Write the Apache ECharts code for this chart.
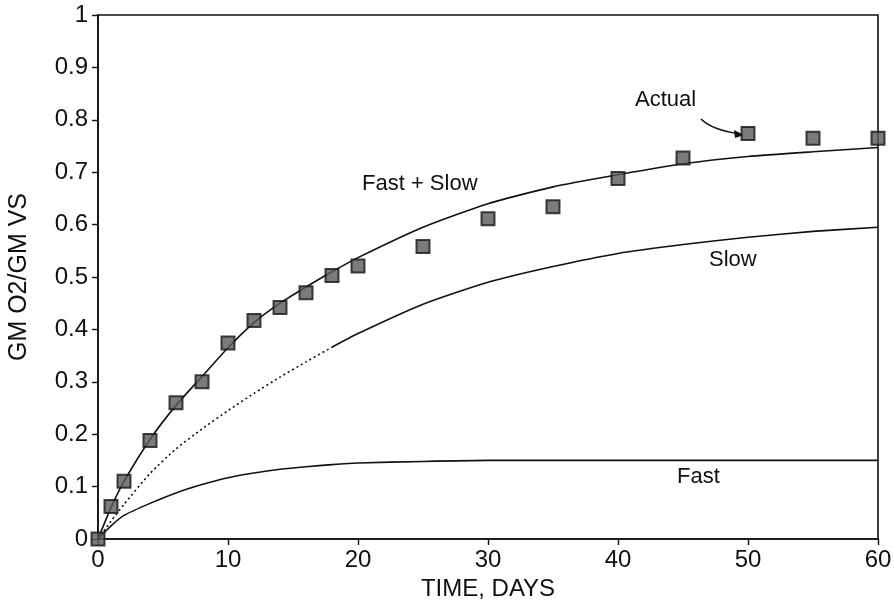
<!DOCTYPE html>
<html><head><meta charset="utf-8">
<script src="https://cdn.jsdelivr.net/npm/echarts@6/dist/echarts.min.js"></script>
<style>html,body{margin:0;padding:0;background:#fff}#c{width:894px;height:610px}</style>
</head><body><div id="c"></div>
<script>
const days = [0,1,2,4,6,8,10,12,14,16,18,20,25,30,35,40,45,50,55,60];
const fastSlow = [0,0.06,0.11,0.19,0.255,0.31,0.365,0.413,0.45,0.481,0.51,0.537,0.595,0.64,0.672,0.695,0.716,0.73,0.739,0.747];
const slow = [0,0.034,0.066,0.125,0.172,0.21,0.245,0.278,0.309,0.338,0.366,0.392,0.448,0.49,0.52,0.545,0.562,0.576,0.587,0.595];
const fast = [0,0.025,0.045,0.068,0.088,0.104,0.117,0.126,0.133,0.138,0.142,0.145,0.148,0.15,0.15,0.15,0.15,0.15,0.15,0.15];
const actualDays = [0,1,2,4,6,8,10,12,14,16,18,20,25,30,35,40,45,50,55,60];
const actual = [0,0.062,0.11,0.188,0.26,0.30,0.374,0.417,0.442,0.47,0.503,0.521,0.558,0.611,0.634,0.688,0.727,0.774,0.765,0.765];
const xTicks = [0,10,20,30,40,50,60];
const yTicks = [0,0.1,0.2,0.3,0.4,0.5,0.6,0.7,0.8,0.9,1];
const dottedEnd = 10; // index of day 18 in days

const pairs = (xs, ys) => xs.map((x, i) => [x, ys[i]]);
const F = 'Liberation Sans, Arial, sans-serif';
const chart = echarts.init(document.getElementById('c'));
const lineStyle = {color: '#111', width: 1.6};
const sm = {smooth: 0.2, showSymbol: false, z: 2};
chart.setOption({
  animation: false,
  backgroundColor: '#fff',
  grid: {left: 98, right: 16, top: 15, bottom: 71, show: true, borderColor: '#111', borderWidth: 1.6,
         containLabel: false, outerBoundsMode: 'none'},
  xAxis: {
    type: 'value', min: xTicks[0], max: xTicks[xTicks.length - 1], interval: 10,
    name: 'TIME, DAYS', nameLocation: 'middle', nameGap: 38,
    nameTextStyle: {fontFamily: F, fontSize: 24, color: '#111'},
    axisLine: {show: true, lineStyle: {color: '#111', width: 1.6}},
    axisTick: {show: true, inside: false, length: 6, lineStyle: {color: '#111', width: 1.4}},
    axisLabel: {fontFamily: F, fontSize: 24, color: '#111', margin: 9},
    splitLine: {show: false}
  },
  yAxis: {
    type: 'value', min: yTicks[0], max: yTicks[yTicks.length - 1], interval: 0.1,
    name: 'GM O2/GM VS', nameLocation: 'middle', nameGap: 66, nameRotate: 90,
    nameTextStyle: {fontFamily: F, fontSize: 25, color: '#111'},
    axisLine: {show: true, lineStyle: {color: '#111', width: 1.6}},
    axisTick: {show: true, inside: false, length: 6, lineStyle: {color: '#111', width: 1.4}},
    axisLabel: {fontFamily: F, fontSize: 24, color: '#111', margin: 10},
    splitLine: {show: false}
  },
  series: [
    Object.assign({name: 'Fast + Slow', type: 'line', data: pairs(days, fastSlow), lineStyle: lineStyle}, sm),
    Object.assign({name: 'Slow dotted', type: 'line', data: pairs(days, slow).slice(0, dottedEnd + 1), lineStyle: {color: '#111', width: 1.6, type: [2, 3]}}, sm),
    Object.assign({name: 'Slow', type: 'line', data: pairs(days, slow).slice(dottedEnd), lineStyle: lineStyle}, sm),
    Object.assign({name: 'Fast', type: 'line', data: pairs(days, fast), lineStyle: lineStyle}, sm),
    {name: 'Actual', type: 'scatter', data: pairs(actualDays, actual), symbol: 'rect', symbolSize: 13,
     itemStyle: {color: '#5a5a5a', borderColor: '#151515', borderWidth: 2}, z: 5}
  ],
  graphic: [
    {type: 'text', left: 362, top: 173, style: {text: 'Fast + Slow', font: '22px ' + F, fill: '#111'}},
    {type: 'text', left: 635, top: 89, style: {text: 'Actual', font: '22px ' + F, fill: '#111'}},
    {type: 'text', left: 709, top: 249, style: {text: 'Slow', font: '22px ' + F, fill: '#111'}},
    {type: 'text', left: 677, top: 466, style: {text: 'Fast', font: '22px ' + F, fill: '#111'}},
    {type: 'bezierCurve', shape: {x1: 701, y1: 119, cpx1: 712, cpy1: 130, x2: 740, y2: 134}, style: {stroke: '#111', lineWidth: 1.6, fill: null}},
    {type: 'polygon', shape: {points: [[744, 135], [734, 130], [735, 138]]}, style: {fill: '#111'}}
  ]
});
</script></body></html>
